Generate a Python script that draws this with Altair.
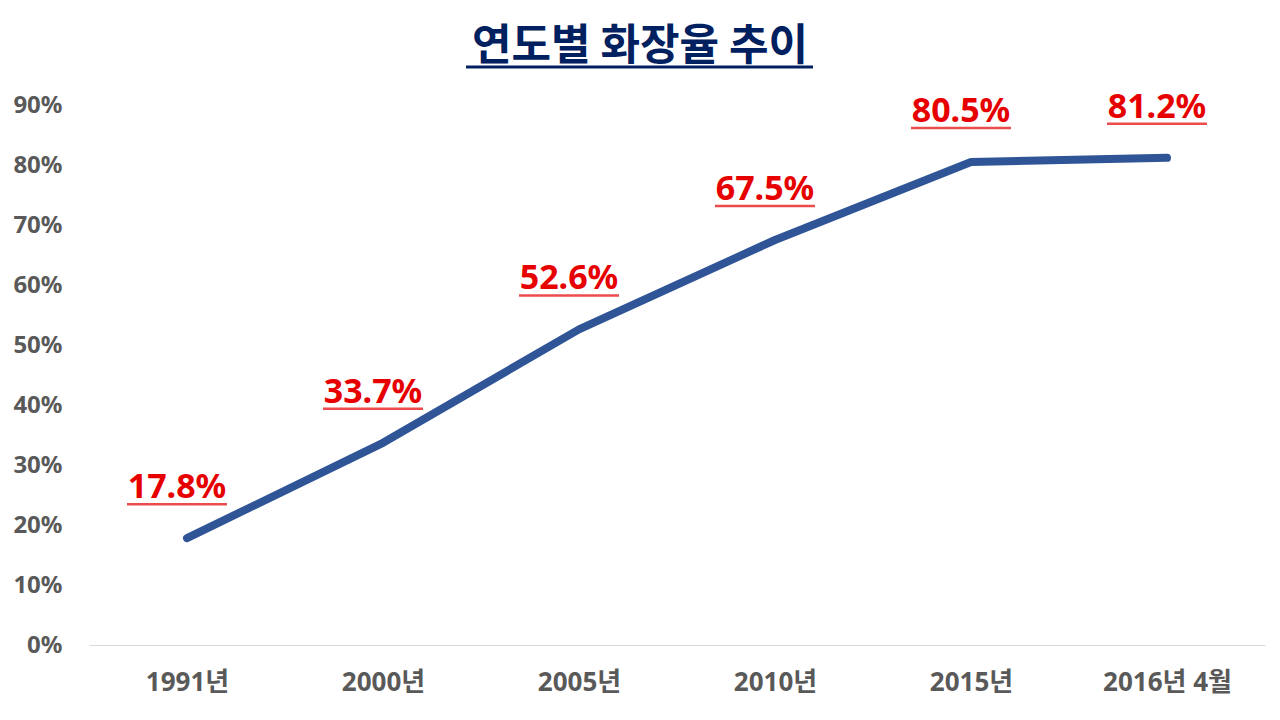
import altair as alt
import pandas as pd

years = ["1991년", "2000년", "2005년", "2010년", "2015년", "2016년 4월"]
rates = [0.178, 0.337, 0.526, 0.675, 0.805, 0.812]
labels = ["17.8%", "33.7%", "52.6%", "67.5%", "80.5%", "81.2%"]
title_text = ["연도별 화장율 추이"]
y_ticks = [0, 0.1, 0.2, 0.3, 0.4, 0.5, 0.6, 0.7, 0.8, 0.9]

df = pd.DataFrame({"year": years, "rate": rates, "label": labels})
tdf = pd.DataFrame({"t": title_text})

FONT = "Noto Sans, Noto Sans CJK KR"
KFONT = "Noto Sans CJK KR"

xenc = alt.X("year:N", sort=years,
             scale=alt.Scale(type="point", padding=0.5),
             axis=alt.Axis(title=None, labelAngle=0, labelFont=FONT, labelFontSize=26,
                           labelFontWeight="bold", labelColor="#595959", labelPadding=24,
                           ticks=False, domainColor="#d9d9d9", domainWidth=1, grid=False))
yenc = alt.Y("rate:Q", scale=alt.Scale(domain=[0, 0.9], nice=False),
             axis=alt.Axis(title=None, values=y_ticks, format=".0%", labelFont=FONT,
                           labelFontSize=24, labelFontWeight="bold", labelColor="#595959",
                           labelPadding=27, ticks=False, domain=False, grid=False))

base = alt.Chart(df)

line = base.mark_line(color="#2F5597", strokeWidth=8, strokeCap="round",
                      strokeJoin="round").encode(x=xenc, y=yenc)

text = base.mark_text(font=FONT, fontSize=34, fontWeight="bold", color="#E60000",
                      dy=-40, dx=-10, baseline="alphabetic", align="center").encode(
    x=alt.X("year:N", sort=years), y="rate:Q", text="label:N")

underline = base.mark_tick(color="#E60000", thickness=2.5, size=100,
                           yOffset=-34, xOffset=-10).encode(
    x=alt.X("year:N", sort=years), y="rate:Q")

title = alt.Chart(tdf).mark_text(font=KFONT, fontSize=43, fontWeight="bold",
                                 color="#002060", align="center",
                                 baseline="alphabetic").encode(
    x=alt.value(551), y=alt.value(-45), text="t:N")

title_ul = alt.Chart(tdf).mark_rule(color="#002060", strokeWidth=3).encode(
    x=alt.value(377), x2=alt.value(724), y=alt.value(-38))

chart = alt.layer(line, text, underline, title, title_ul).properties(
    width=1176, height=540,
    autosize=alt.AutoSizeParams(type="none"),
    padding={"left": 81, "top": 97, "right": 7, "bottom": 67},
).configure_view(stroke=None)

chart.save("out.html", embed_options={"renderer": "svg", "actions": False})
